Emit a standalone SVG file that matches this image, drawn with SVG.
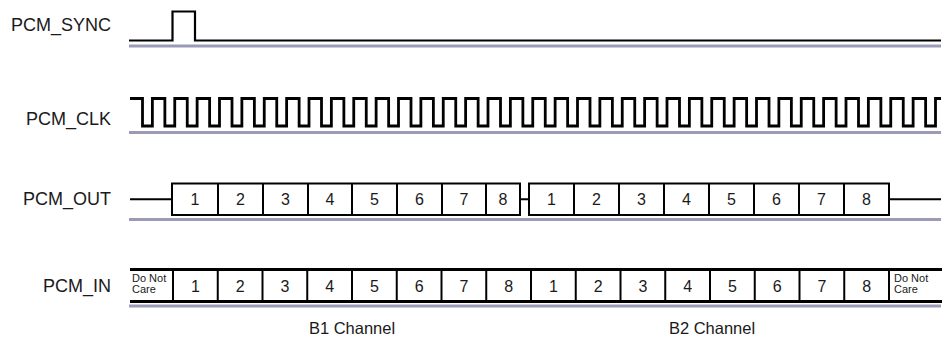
<svg xmlns="http://www.w3.org/2000/svg" width="947" height="342" viewBox="0 0 947 342">
<style>
.bg{fill:#ffffff}
.lbl{font-family:"Liberation Sans",Arial,sans-serif;font-size:18px;fill:#1a1a1a;text-anchor:end}
.dig{font-family:"Liberation Sans",Arial,sans-serif;font-size:16px;fill:#1a1a1a;text-anchor:middle}
.dnc{font-family:"Liberation Sans",Arial,sans-serif;font-size:11px;fill:#1a1a1a}
.ch{font-family:"Liberation Sans",Arial,sans-serif;font-size:16.5px;fill:#1a1a1a;text-anchor:middle}
.sig{fill:none;stroke:#000;stroke-width:2.2}
.clk{fill:none;stroke:#000;stroke-width:2.8;stroke-linejoin:miter}
.box{fill:#fff;stroke:#000;stroke-width:2}
.bus{fill:none;stroke:#000;stroke-width:2.8}
.div{stroke:#000;stroke-width:2}
.base{stroke:#9b9bb8;stroke-width:3}
</style>
<rect class="bg" x="0" y="0" width="947" height="342"/>

<g id="baselines">
<line class="base" x1="129" y1="46" x2="941" y2="46"/>
<line class="base" x1="129" y1="132.5" x2="941" y2="132.5"/>
<line class="base" x1="129" y1="219.5" x2="941" y2="219.5"/>
<line class="base" x1="129" y1="306" x2="941" y2="306"/>
</g>

<g id="pcm_sync">
<text class="lbl" x="111" y="31">PCM_SYNC</text>
<path class="sig" d="M129,40.5 H172.5 V11.5 H195 V40.5 H941"/>
</g>

<g id="pcm_clk">
<text class="lbl" x="111" y="124.5">PCM_CLK</text>
<path class="clk" d="M130,98.5 h12.5 v27.5
h9.875 v-27.5 h12.5 v27.5 h9.875 v-27.5 h12.5 v27.5 h9.875 v-27.5 h12.5 v27.5 h9.875 v-27.5 h12.5 v27.5
h9.875 v-27.5 h12.5 v27.5 h9.875 v-27.5 h12.5 v27.5 h9.875 v-27.5 h12.5 v27.5 h9.875 v-27.5 h12.5 v27.5
h9.875 v-27.5 h12.5 v27.5 h9.875 v-27.5 h12.5 v27.5 h9.875 v-27.5 h12.5 v27.5 h9.875 v-27.5 h12.5 v27.5
h9.875 v-27.5 h12.5 v27.5 h9.875 v-27.5 h12.5 v27.5 h9.875 v-27.5 h12.5 v27.5 h9.875 v-27.5 h12.5 v27.5
h9.875 v-27.5 h12.5 v27.5 h9.875 v-27.5 h12.5 v27.5 h9.875 v-27.5 h12.5 v27.5 h9.875 v-27.5 h12.5 v27.5
h9.875 v-27.5 h12.5 v27.5 h9.875 v-27.5 h12.5 v27.5 h9.875 v-27.5 h12.5 v27.5 h9.875 v-27.5 h12.5 v27.5
h9.875 v-27.5 h12.5 v27.5 h9.875 v-27.5 h12.5 v27.5 h9.875 v-27.5 h12.5 v27.5 h9.875 v-27.5 h12.5 v27.5
h9.875 v-27.5 h12.5 v27.5 h9.875 v-27.5 h12.5 v27.5 h9.875 v-27.5 h12.5 v27.5 h9.875 v-27.5 h12.5 v27.5
h9.875 v-27.5 h12.5 v27.5 h9.875 v-27.5 h12.5 v27.5 h9.875 v-27.5 h12.5 v27.5
h9.875 v-27.5 h5.5"/>
</g>

<g id="pcm_out">
<text class="lbl" x="111" y="205">PCM_OUT</text>
<path class="sig" d="M130,199.25 H172 M520,199.25 H529 M889,199.25 H941"/>
<rect class="box" x="172" y="183.5" width="348" height="31.5"/>
<rect class="box" x="529" y="183.5" width="360" height="31.5"/>
<g>
<line class="div" x1="218" y1="183.5" x2="218" y2="215"/>
<line class="div" x1="263" y1="183.5" x2="263" y2="215"/>
<line class="div" x1="308" y1="183.5" x2="308" y2="215"/>
<line class="div" x1="352" y1="183.5" x2="352" y2="215"/>
<line class="div" x1="397" y1="183.5" x2="397" y2="215"/>
<line class="div" x1="442" y1="183.5" x2="442" y2="215"/>
<line class="div" x1="486" y1="183.5" x2="486" y2="215"/>
<line class="div" x1="574" y1="183.5" x2="574" y2="215"/>
<line class="div" x1="619" y1="183.5" x2="619" y2="215"/>
<line class="div" x1="664" y1="183.5" x2="664" y2="215"/>
<line class="div" x1="709" y1="183.5" x2="709" y2="215"/>
<line class="div" x1="754" y1="183.5" x2="754" y2="215"/>
<line class="div" x1="799" y1="183.5" x2="799" y2="215"/>
<line class="div" x1="844" y1="183.5" x2="844" y2="215"/>
</g>
<text class="dig" x="195" y="205">1</text>
<text class="dig" x="240.5" y="205">2</text>
<text class="dig" x="285.5" y="205">3</text>
<text class="dig" x="330" y="205">4</text>
<text class="dig" x="374.5" y="205">5</text>
<text class="dig" x="419.5" y="205">6</text>
<text class="dig" x="464" y="205">7</text>
<text class="dig" x="503" y="205">8</text>
<text class="dig" x="551.5" y="205">1</text>
<text class="dig" x="596.5" y="205">2</text>
<text class="dig" x="641.5" y="205">3</text>
<text class="dig" x="686.5" y="205">4</text>
<text class="dig" x="731.5" y="205">5</text>
<text class="dig" x="776.5" y="205">6</text>
<text class="dig" x="821.5" y="205">7</text>
<text class="dig" x="866.5" y="205">8</text>
</g>

<g id="pcm_in">
<text class="lbl" x="111" y="292">PCM_IN</text>
<path class="bus" d="M130,269.5 H942 M130,301.5 H942"/>
<g>
<line class="div" x1="173" y1="269.5" x2="173" y2="301.5"/>
<line class="div" x1="217.75" y1="269.5" x2="217.75" y2="301.5"/>
<line class="div" x1="262.5" y1="269.5" x2="262.5" y2="301.5"/>
<line class="div" x1="307.25" y1="269.5" x2="307.25" y2="301.5"/>
<line class="div" x1="352" y1="269.5" x2="352" y2="301.5"/>
<line class="div" x1="396.75" y1="269.5" x2="396.75" y2="301.5"/>
<line class="div" x1="441.5" y1="269.5" x2="441.5" y2="301.5"/>
<line class="div" x1="486.25" y1="269.5" x2="486.25" y2="301.5"/>
<line class="div" x1="531" y1="269.5" x2="531" y2="301.5"/>
<line class="div" x1="575.75" y1="269.5" x2="575.75" y2="301.5"/>
<line class="div" x1="620.5" y1="269.5" x2="620.5" y2="301.5"/>
<line class="div" x1="665.25" y1="269.5" x2="665.25" y2="301.5"/>
<line class="div" x1="710" y1="269.5" x2="710" y2="301.5"/>
<line class="div" x1="754.75" y1="269.5" x2="754.75" y2="301.5"/>
<line class="div" x1="799.5" y1="269.5" x2="799.5" y2="301.5"/>
<line class="div" x1="844.25" y1="269.5" x2="844.25" y2="301.5"/>
<line class="div" x1="889" y1="269.5" x2="889" y2="301.5"/>
</g>
<text class="dnc" x="132" y="281.5">Do Not</text>
<text class="dnc" x="132" y="293">Care</text>
<text class="dnc" x="894" y="281.5">Do Not</text>
<text class="dnc" x="894" y="293">Care</text>
<text class="dig" x="195.4" y="291.5">1</text>
<text class="dig" x="240.1" y="291.5">2</text>
<text class="dig" x="284.9" y="291.5">3</text>
<text class="dig" x="329.6" y="291.5">4</text>
<text class="dig" x="374.4" y="291.5">5</text>
<text class="dig" x="419.1" y="291.5">6</text>
<text class="dig" x="463.9" y="291.5">7</text>
<text class="dig" x="508.6" y="291.5">8</text>
<text class="dig" x="553.4" y="291.5">1</text>
<text class="dig" x="598.1" y="291.5">2</text>
<text class="dig" x="642.9" y="291.5">3</text>
<text class="dig" x="687.6" y="291.5">4</text>
<text class="dig" x="732.4" y="291.5">5</text>
<text class="dig" x="777.1" y="291.5">6</text>
<text class="dig" x="821.9" y="291.5">7</text>
<text class="dig" x="866.6" y="291.5">8</text>
</g>

<g id="channels">
<text class="ch" x="352" y="334">B1 Channel</text>
<text class="ch" x="712" y="334">B2 Channel</text>
</g>
</svg>
